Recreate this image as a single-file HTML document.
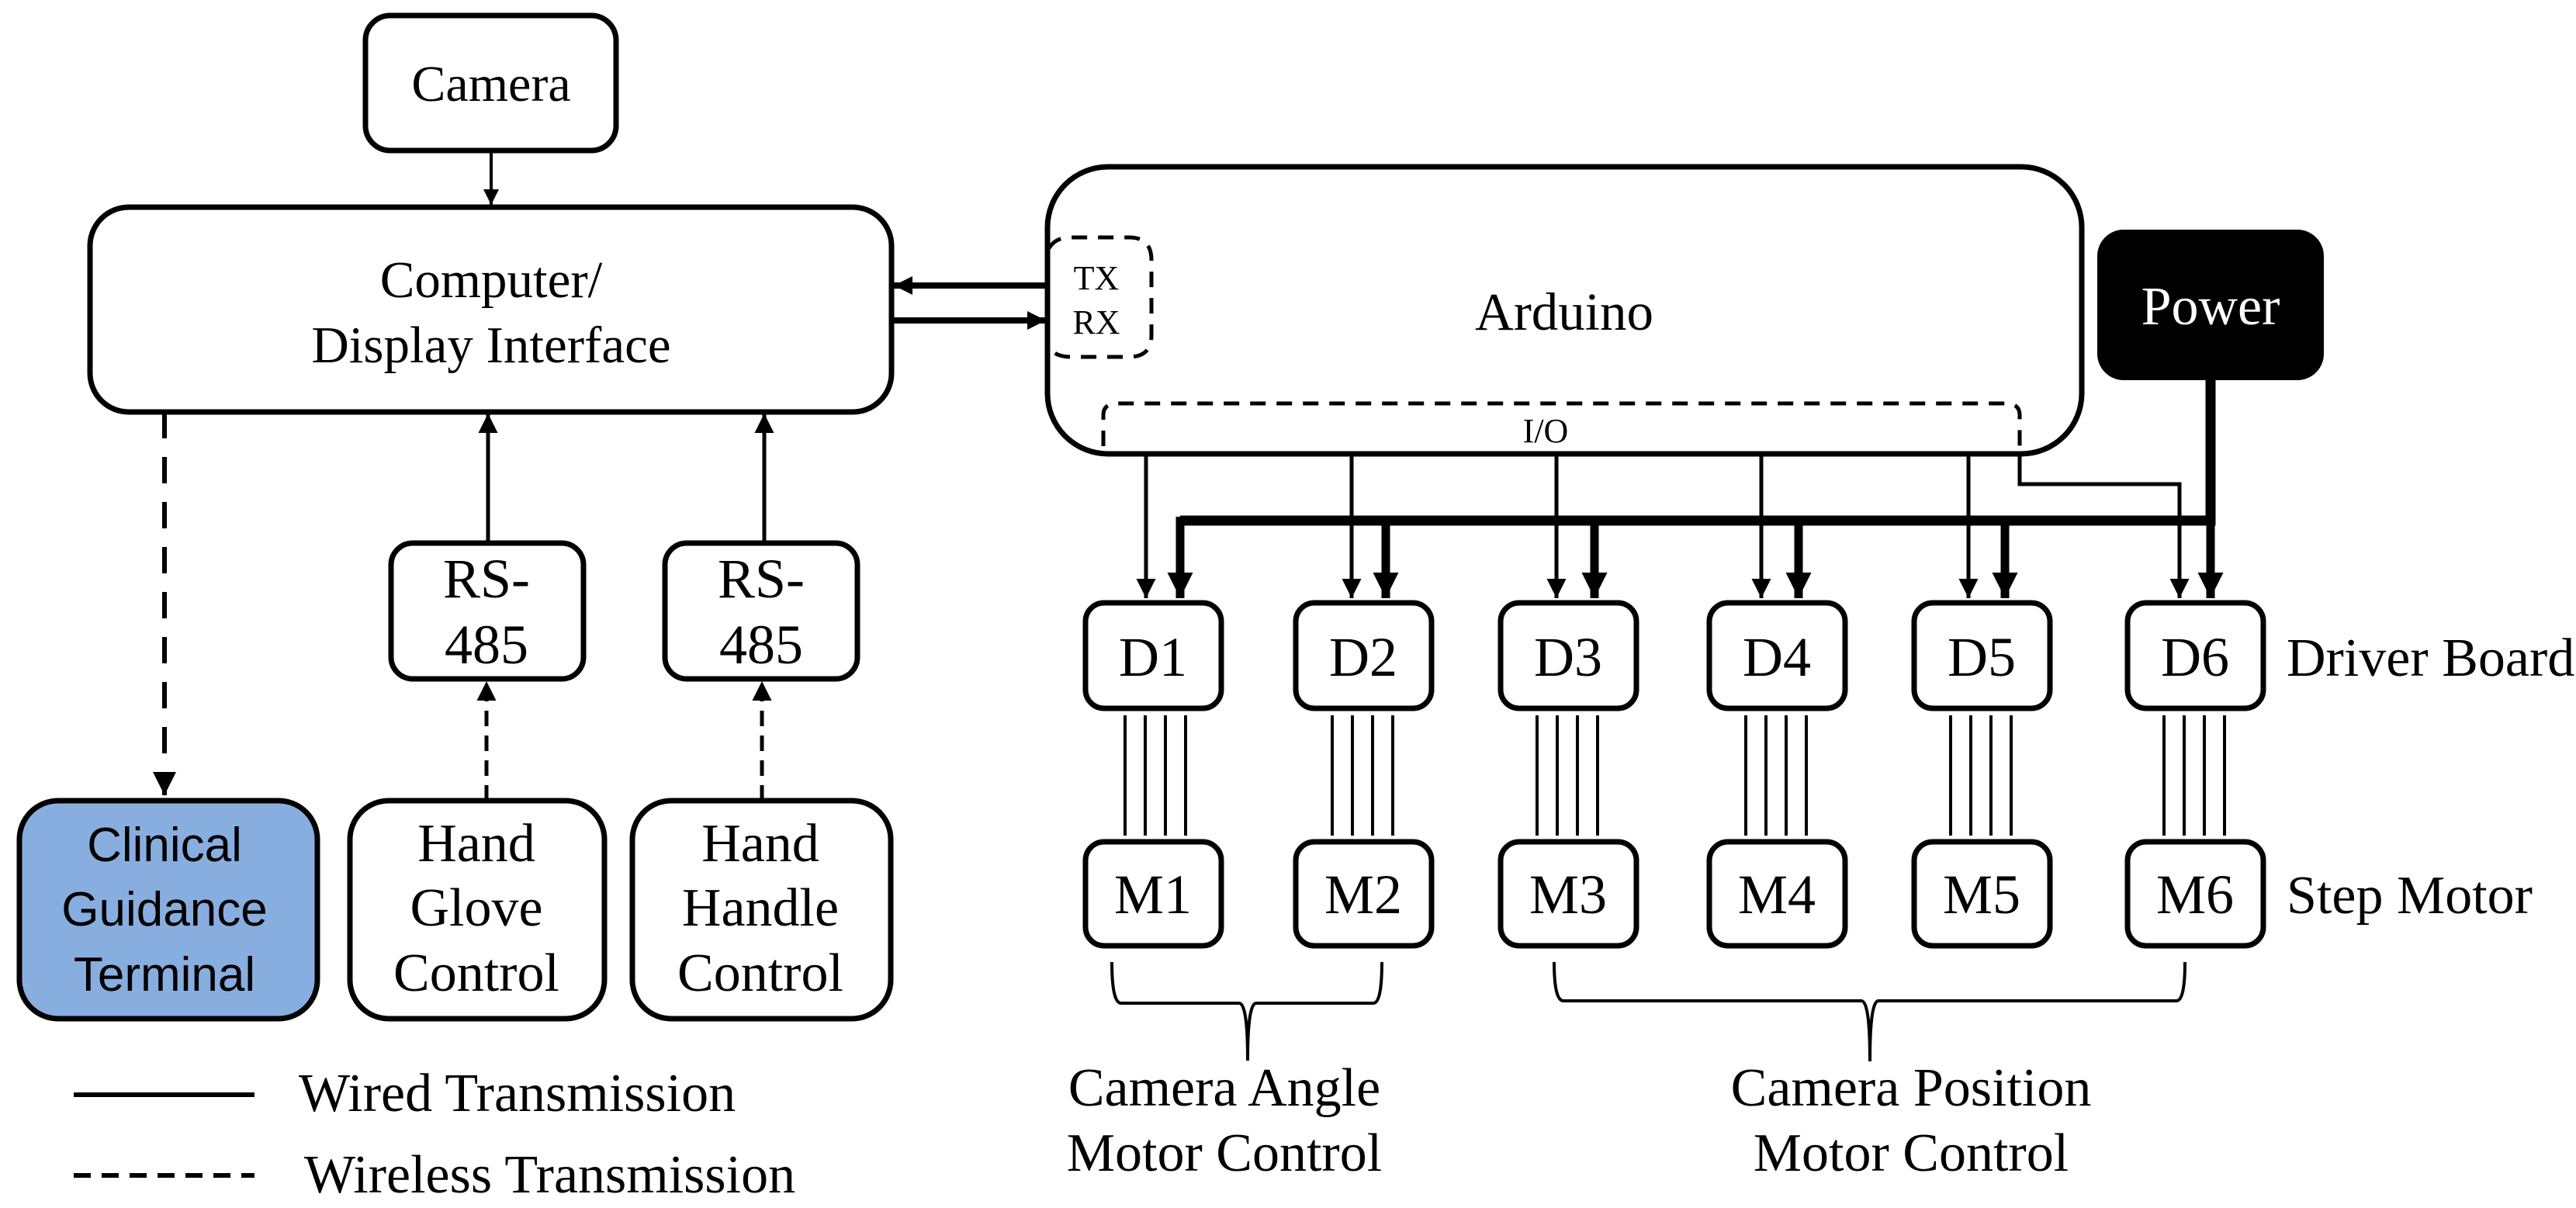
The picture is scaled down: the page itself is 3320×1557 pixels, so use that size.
<!DOCTYPE html>
<html><head><meta charset="utf-8"><style>html,body{margin:0;padding:0;background:#fff}svg{display:block}</style></head>
<body>
<svg xmlns="http://www.w3.org/2000/svg" width="3320" height="1557" viewBox="0 0 3320 1557" font-family="Liberation Serif, serif">
<defs>
<marker id="a" viewBox="0 0 10 10" refX="10" refY="5" markerWidth="5" markerHeight="5" markerUnits="strokeWidth" orient="auto"><path d="M0,0L10,5L0,10z" fill="#000"/></marker>
<marker id="b" viewBox="0 0 10 10" refX="10" refY="5" markerWidth="3" markerHeight="3" markerUnits="strokeWidth" orient="auto"><path d="M0,0L10,5L0,10z" fill="#000"/></marker>
</defs>
<g fill="none" stroke="#000" stroke-width="7">
<rect x="471" y="20" width="323" height="174" rx="32"/>
<rect x="116" y="267" width="1033" height="264" rx="50"/>
<rect x="1350" y="215" width="1333" height="370" rx="78"/>
<rect x="504" y="700" width="248" height="175" rx="28"/>
<rect x="857" y="700" width="248" height="175" rx="28"/>
<rect x="25" y="1032" width="384" height="281" rx="50" fill="#88AEE0"/>
<rect x="451" y="1032" width="328" height="281" rx="50"/>
<rect x="815" y="1032" width="333" height="281" rx="50"/>
<rect x="1399" y="777" width="175" height="136" rx="24"/>
<rect x="1670" y="777" width="175" height="136" rx="24"/>
<rect x="1934" y="777" width="175" height="136" rx="24"/>
<rect x="2203" y="777" width="175" height="136" rx="24"/>
<rect x="2467" y="777" width="175" height="136" rx="24"/>
<rect x="2742" y="777" width="175" height="136" rx="24"/>
<rect x="1399" y="1085" width="175" height="134" rx="24"/>
<rect x="1670" y="1085" width="175" height="134" rx="24"/>
<rect x="1934" y="1085" width="175" height="134" rx="24"/>
<rect x="2203" y="1085" width="175" height="134" rx="24"/>
<rect x="2467" y="1085" width="175" height="134" rx="24"/>
<rect x="2742" y="1085" width="175" height="134" rx="24"/>
</g>
<rect x="2703" y="296" width="292" height="194" rx="34" fill="#000"/>
<g fill="none" stroke="#000" stroke-width="5" stroke-dasharray="20 14">
<path d="M1352,320 Q1360,306 1380,306 L1455,306 Q1484,306 1484,335 L1484,432 Q1484,460 1455,460 L1380,460 Q1360,460 1352,448"/>
<path d="M1422,575 L1422,535 Q1422,520 1440,520 L2585,520 Q2603,520 2603,535 L2603,575"/>
</g>
<g stroke="#000" fill="none">
<line x1="633" y1="194" x2="633" y2="264" stroke-width="4" marker-end="url(#a)"/>
<line x1="1350" y1="368" x2="1152" y2="368" stroke-width="8" marker-end="url(#b)"/>
<line x1="1150" y1="413" x2="1348" y2="413" stroke-width="8" marker-end="url(#b)"/>
<line x1="629" y1="700" x2="629" y2="533" stroke-width="5" marker-end="url(#a)"/>
<line x1="985" y1="700" x2="985" y2="533" stroke-width="5" marker-end="url(#a)"/>
<line x1="212" y1="531" x2="212" y2="1025" stroke-width="6" stroke-dasharray="34 24" marker-end="url(#a)"/>
<line x1="627" y1="1032" x2="627" y2="878" stroke-width="5" stroke-dasharray="20 12" marker-end="url(#a)"/>
<line x1="982" y1="1032" x2="982" y2="878" stroke-width="5" stroke-dasharray="20 12" marker-end="url(#a)"/>
<g stroke-width="5">
<line x1="1477" y1="585" x2="1477" y2="771" marker-end="url(#a)"/>
<line x1="1742" y1="585" x2="1742" y2="771" marker-end="url(#a)"/>
<line x1="2006" y1="585" x2="2006" y2="771" marker-end="url(#a)"/>
<line x1="2270" y1="585" x2="2270" y2="771" marker-end="url(#a)"/>
<line x1="2537" y1="585" x2="2537" y2="771" marker-end="url(#a)"/>
<polyline points="2603,585 2603,624 2809,624 2809,771" marker-end="url(#a)"/>
</g>
<polyline points="2849,490 2849,671 1521,671" stroke-width="13" fill="none"/>
<g stroke-width="11">
<line x1="1521" y1="666" x2="1521" y2="771" marker-end="url(#b)"/>
<line x1="1786" y1="671" x2="1786" y2="771" marker-end="url(#b)"/>
<line x1="2055" y1="671" x2="2055" y2="771" marker-end="url(#b)"/>
<line x1="2318" y1="671" x2="2318" y2="771" marker-end="url(#b)"/>
<line x1="2584" y1="671" x2="2584" y2="771" marker-end="url(#b)"/>
<line x1="2849" y1="671" x2="2849" y2="771" marker-end="url(#b)"/>
</g>
<g stroke-width="4">
<path d="M1450,922V1077M1476,922V1077M1502,922V1077M1528,922V1077"/>
<path d="M1717,922V1077M1743,922V1077M1769,922V1077M1795,922V1077"/>
<path d="M1981,922V1077M2007,922V1077M2033,922V1077M2059,922V1077"/>
<path d="M2250,922V1077M2276,922V1077M2302,922V1077M2328,922V1077"/>
<path d="M2514,922V1077M2540,922V1077M2566,922V1077M2592,922V1077"/>
<path d="M2789,922V1077M2815,922V1077M2841,922V1077M2867,922V1077"/>
</g>
<g stroke-width="4">
<path d="M1433,1240 Q1433,1293 1445,1293 L1597,1293 Q1608,1293 1608,1367 Q1608,1293 1619,1293 L1770,1293 Q1781,1293 1781,1240"/>
<path d="M2003,1240 Q2003,1290 2015,1290 L2399,1290 Q2410,1290 2410,1368 Q2410,1290 2421,1290 L2805,1290 Q2816,1290 2816,1240"/>
</g>
<line x1="95" y1="1411" x2="328" y2="1411" stroke-width="6"/>
<line x1="95" y1="1515" x2="328" y2="1515" stroke-width="6" stroke-dasharray="22 14"/>
</g>
<g font-size="70" text-anchor="middle" fill="#000">
<text x="633" y="130" font-size="66">Camera</text>
<text x="633" y="383" font-size="67">Computer/</text>
<text x="633" y="467" font-size="67">Display Interface</text>
<text x="2016" y="425" font-size="69">Arduino</text>
<text x="2849" y="418" fill="#fff" font-size="70">Power</text>
<text x="627" y="770" font-size="72">RS-</text>
<text x="627" y="855" font-size="72">485</text>
<text x="981" y="770" font-size="72">RS-</text>
<text x="981" y="855" font-size="72">485</text>
<text x="212" y="1110" font-family="Liberation Sans, sans-serif" font-size="62">Clinical</text>
<text x="212" y="1193" font-family="Liberation Sans, sans-serif" font-size="62">Guidance</text>
<text x="212" y="1277" font-family="Liberation Sans, sans-serif" font-size="62">Terminal</text>
<text x="614" y="1110">Hand</text>
<text x="614" y="1193">Glove</text>
<text x="614" y="1277">Control</text>
<text x="980" y="1110">Hand</text>
<text x="980" y="1193">Handle</text>
<text x="980" y="1277">Control</text>
<g font-size="72">
<text x="1486" y="871">D1</text><text x="1757" y="871">D2</text><text x="2021" y="871">D3</text>
<text x="2290" y="871">D4</text><text x="2554" y="871">D5</text><text x="2829" y="871">D6</text>
<text x="1486" y="1177">M1</text><text x="1757" y="1177">M2</text><text x="2021" y="1177">M3</text>
<text x="2290" y="1177">M4</text><text x="2554" y="1177">M5</text><text x="2829" y="1177">M6</text>
</g>
<text x="1578" y="1425">Camera Angle</text>
<text x="1578" y="1509">Motor Control</text>
<text x="2463" y="1425">Camera Position</text>
<text x="2463" y="1509">Motor Control</text>
<text x="1413" y="373" font-size="44">TX</text>
<text x="1413" y="430" font-size="44">RX</text>
<text x="1992" y="570" font-size="44">I/O</text>
</g>
<g font-size="70" fill="#000">
<text x="2947" y="871">Driver Board</text>
<text x="2947" y="1177">Step Motor</text>
<text x="385" y="1432">Wired Transmission</text>
<text x="392" y="1537">Wireless Transmission</text>
</g>
</svg>
</body></html>
